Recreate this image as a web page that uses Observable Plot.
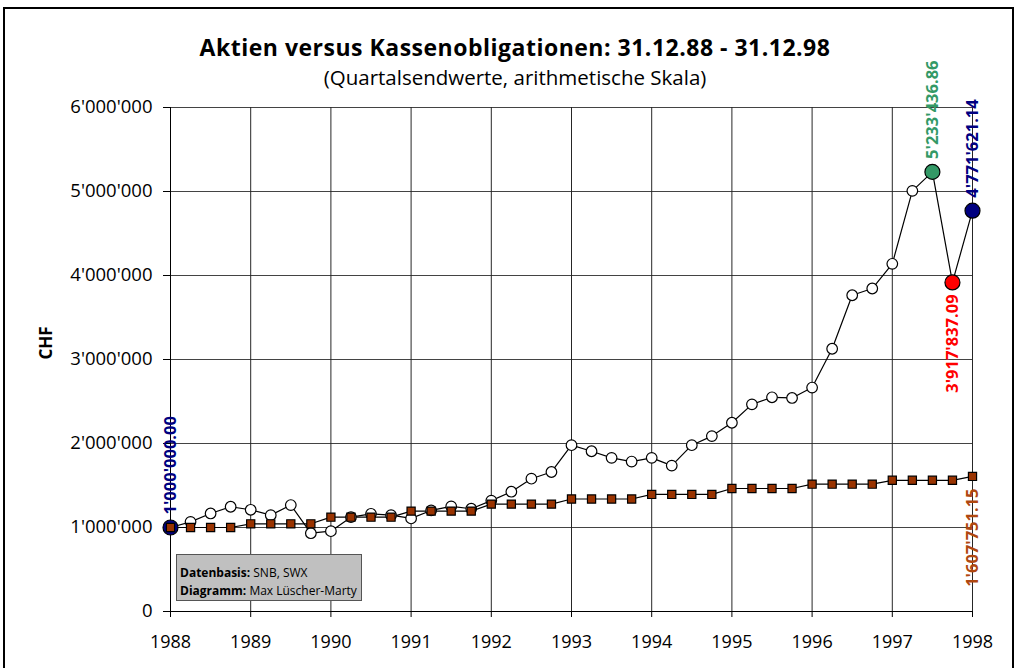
<!DOCTYPE html>
<html>
<head>
<meta charset="utf-8">
<script src="https://cdn.jsdelivr.net/npm/d3@7"></script>
<script src="https://cdn.jsdelivr.net/npm/@observablehq/plot@0.6"></script>
<style>
  body { margin: 0; background: white; }
  #wrap { position: relative; width: 1016px; height: 668px; overflow: hidden; background: white; font-family: "Open Sans", sans-serif; }
  #chart { position: absolute; left: 0; top: 0; }
  #frame { position: absolute; left: 3px; top: 7px; width: 1007px; height: 700px; border: 2px solid #000; }
  .title { position: absolute; left: 515px; transform: translateX(-50%); white-space: nowrap; color: #000; }
  #t1 { top: 35.5px; font-size: 23px; line-height: 23px; font-weight: bold; letter-spacing: 0.5px; }
  #t2 { top: 67px; font-size: 20.5px; line-height: 20.5px; }
  #legend { position: absolute; left: 176px; top: 554px; width: 186px; height: 47px; background: #c0c0c0; border: 1.5px solid #555; font-size: 12px; line-height: 18px; color: #000; box-sizing: border-box; padding: 9px 0 0 3px; }
  #legend b { font-weight: bold; }
</style>
</head>
<body>
<div id="wrap">
  <div id="chart"></div>
  <div id="frame"></div>
  <div class="title" id="t1">Aktien versus Kassenobligationen: 31.12.88 - 31.12.98</div>
  <div class="title" id="t2">(Quartalsendwerte, arithmetische Skala)</div>
  <div id="legend"><div><b>Datenbasis:</b> SNB, SWX</div><div><b>Diagramm:</b> Max Lüscher-Marty</div></div>
</div>
<script>
// Quarterly dates (decimal years) — 31.12.88 shown at 1988
const quarters = [
  1988.00, 1988.25, 1988.50, 1988.75,
  1989.00, 1989.25, 1989.50, 1989.75,
  1990.00, 1990.25, 1990.50, 1990.75,
  1991.00, 1991.25, 1991.50, 1991.75,
  1992.00, 1992.25, 1992.50, 1992.75,
  1993.00, 1993.25, 1993.50, 1993.75,
  1994.00, 1994.25, 1994.50, 1994.75,
  1995.00, 1995.25, 1995.50, 1995.75,
  1996.00, 1996.25, 1996.50, 1996.75,
  1997.00, 1997.25, 1997.50, 1997.75,
  1998.00
];
// Aktien (white circles)
const aktienValues = [
  1000000, 1067000, 1167000, 1247000,
  1211000, 1147000, 1267000, 932000,
  956000, 1123000, 1163000, 1147000,
  1108000, 1203000, 1251000, 1223000,
  1320000, 1426000, 1581000, 1661000,
  1980000, 1908000, 1829000, 1785000,
  1829000, 1737000, 1980000, 2088000,
  2247000, 2466000, 2550000, 2542000,
  2666000, 3128000, 3765000, 3845000,
  4139000, 5008000, 5233436.86, 3917837.09,
  4771621.14
];
// Kassenobligationen (brown squares)
const kasseValues = [
  1000000, 1000000, 1000000, 1000000,
  1044000, 1044000, 1044000, 1044000,
  1123000, 1123000, 1123000, 1123000,
  1195000, 1195000, 1195000, 1195000,
  1278000, 1278000, 1278000, 1278000,
  1339000, 1339000, 1339000, 1339000,
  1394000, 1394000, 1394000, 1394000,
  1464000, 1464000, 1464000, 1464000,
  1516000, 1516000, 1516000, 1516000,
  1562000, 1562000, 1562000, 1562000,
  1607751.15
];
// Highlighted Aktien points
const highlightX = [1988.00, 1997.50, 1997.75, 1998.00];
const highlightY = [1000000, 5233436.86, 3917837.09, 4771621.14];
const highlightColor = ["#000080", "#339966", "#ff0000", "#000080"];
// Value labels
const labelX = [1988.00, 1997.50, 1998.00, 1997.75, 1998.00];
const labelY = [1000000, 5233436.86, 4771621.14, 3917837.09, 1607751.15];
const labelColor = ["#000080", "#339966", "#000080", "#ff0000", "#b04810"];
const labelSide = ["above", "above", "above", "below", "below"];
// Axis ticks
const yearTicks = [1988, 1989, 1990, 1991, 1992, 1993, 1994, 1995, 1996, 1997, 1998];
const yTicks = [0, 1000000, 2000000, 3000000, 4000000, 5000000, 6000000];

const loc = d3.formatLocale({decimal: ".", thousands: "'", grouping: [3], currency: ["", ""]});
const fmtInt = loc.format(",.0f");
const fmt2 = loc.format(",.2f");

const aktien = quarters.map((x, i) => ({x, y: aktienValues[i]}));
const kasse = quarters.map((x, i) => ({x, y: kasseValues[i]}));
const highlights = highlightX.map((x, i) => ({x, y: highlightY[i], color: highlightColor[i]}));
const labels = labelX.map((x, i) => ({x, y: labelY[i], color: labelColor[i], side: labelSide[i], text: fmt2(labelY[i])}));
const above = labels.filter(d => d.side === "above");
const below = labels.filter(d => d.side === "below");

const chart = Plot.plot({
  width: 1016,
  height: 668,
  marginLeft: 170,
  marginRight: 44,
  marginTop: 107,
  marginBottom: 57,
  style: {fontFamily: "'Open Sans', sans-serif", fontSize: "18px", color: "#000", background: "transparent", overflow: "visible"},
  x: {domain: [1988, 1998], label: null},
  y: {domain: [0, 6000000], label: null},
  marks: [
    Plot.gridX(yearTicks, {stroke: "#000", strokeOpacity: 0.85}),
    Plot.gridY(yTicks, {stroke: "#222", strokeOpacity: 0.85}),
    Plot.axisX(yearTicks, {tickSize: 6, tickPadding: 18, tickFormat: d => String(d), fontSize: 18, label: null}),
    Plot.axisY(yTicks, {tickSize: 7, tickPadding: 11, tickFormat: fmtInt, fontSize: 18.5, label: null}),
    Plot.ruleX([1988], {stroke: "#000"}),
    Plot.ruleY([0], {stroke: "#000"}),
    Plot.line(aktien, {x: "x", y: "y", stroke: "#000", strokeWidth: 1.2}),
    Plot.line(kasse, {x: "x", y: "y", stroke: "#000", strokeWidth: 1.2}),
    Plot.dot(aktien, {x: "x", y: "y", r: 5.3, fill: "white", stroke: "#000", strokeWidth: 1.2}),
    Plot.dot(highlights, {x: "x", y: "y", r: 7.5, fill: "color", stroke: "#000", strokeWidth: 1.2}),
    Plot.dot(kasse, {x: "x", y: "y", symbol: "square", r: 4.6, fill: "#993300", stroke: "#000", strokeWidth: 1.2}),
    Plot.text(above, {x: "x", y: "y", text: "text", fill: "color", rotate: -90, textAnchor: "start", lineAnchor: "middle", dy: -13, fontSize: 16.5, fontWeight: "bold"}),
    Plot.text(below, {x: "x", y: "y", text: "text", fill: "color", rotate: -90, textAnchor: "end", lineAnchor: "middle", dy: 12, fontSize: 16.5, fontWeight: "bold"}),
    Plot.text(["CHF"], {frameAnchor: "left", dx: -124, rotate: -90, fontWeight: "bold", fontSize: 17})
  ]
});
document.getElementById("chart").appendChild(chart);
</script>
</body>
</html>
